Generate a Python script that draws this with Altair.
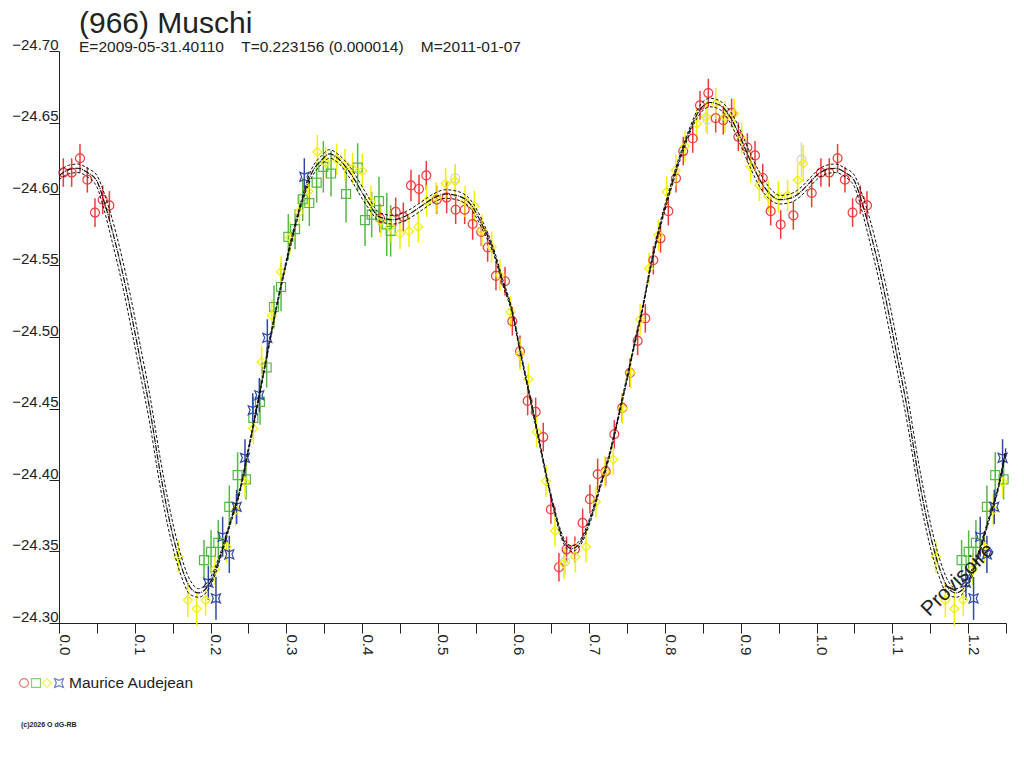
import altair as alt
import pandas as pd

FONT = "Liberation Sans"
INK = "#222222"

TITLE = "(966) Muschi"
SUBTITLE = "E=2009-05-31.40110\u00a0\u00a0\u00a0\u00a0T=0.223156 (0.000014)\u00a0\u00a0\u00a0\u00a0M=2011-01-07"
OBSERVER = "Maurice Audejean"
COPYRIGHT = "(c)2026 O dG-RB"
STAMP = "Provisoire"

# fitted light curve (phase 0..1)
curve_phase = [0.000, 0.0125, 0.025, 0.0375, 0.050, 0.060, 0.070, 0.083, 0.095, 0.108, 0.120, 0.133, 0.1465,
               0.160, 0.173, 0.184, 0.199, 0.2125, 0.226, 0.239, 0.250, 0.265, 0.281, 0.294, 0.307, 0.320,
               0.333, 0.347, 0.357, 0.368, 0.384, 0.406, 0.423, 0.441, 0.459, 0.477, 0.494, 0.510, 0.525,
               0.543, 0.560, 0.573, 0.586, 0.599, 0.608, 0.6217, 0.6327, 0.6437, 0.6547, 0.6657, 0.6767,
               0.6877, 0.7009, 0.714, 0.7273, 0.7383, 0.7493, 0.760, 0.771, 0.780, 0.793, 0.8066, 0.820,
               0.833, 0.846, 0.8594, 0.8726, 0.8858, 0.899, 0.912, 0.925, 0.9385, 0.9517, 0.965, 0.978, 0.991]
curve_mag = [-24.613, -24.617, -24.618, -24.615, -24.609, -24.594, -24.575, -24.547, -24.517, -24.482, -24.449,
             -24.407, -24.370, -24.342, -24.325, -24.321, -24.328, -24.346, -24.370, -24.393, -24.421, -24.461,
             -24.505, -24.538, -24.568, -24.594, -24.614, -24.624, -24.628, -24.625, -24.615, -24.596, -24.584,
             -24.582, -24.585, -24.591, -24.597, -24.600, -24.599, -24.593, -24.577, -24.561, -24.538, -24.516,
             -24.492, -24.458, -24.430, -24.402, -24.377, -24.358, -24.352, -24.356, -24.372, -24.395, -24.419,
             -24.444, -24.470, -24.496, -24.522, -24.547, -24.577, -24.603, -24.626, -24.645, -24.659, -24.664,
             -24.662, -24.654, -24.640, -24.624, -24.610, -24.600, -24.596, -24.597, -24.601, -24.608]
# half-width of the dashed uncertainty envelope at each curve point
curve_band = [0.003, 0.003, 0.003, 0.003, 0.004, 0.006, 0.008, 0.009, 0.010, 0.010, 0.010, 0.010, 0.009,
              0.007, 0.005, 0.003, 0.003, 0.002, 0.0015, 0.0015, 0.0015, 0.0015, 0.0015, 0.0015, 0.002, 0.002,
              0.003, 0.003, 0.003, 0.003, 0.004, 0.004, 0.003, 0.003, 0.003, 0.003, 0.003, 0.003, 0.003,
              0.003, 0.003, 0.002, 0.002, 0.0015, 0.0015, 0.0015, 0.0015, 0.0015, 0.0015, 0.002, 0.002,
              0.002, 0.002, 0.0015, 0.0015, 0.0015, 0.0015, 0.0015, 0.0015, 0.0015, 0.002, 0.002, 0.002,
              0.002, 0.003, 0.003, 0.003, 0.004, 0.005, 0.005, 0.005, 0.004, 0.003, 0.003, 0.003, 0.003]

red_phase = [0.0057, 0.0167, 0.0277, 0.0374, 0.0475, 0.0577, 0.0665,
             0.4237, 0.4444, 0.4545, 0.4646, 0.4752, 0.4848, 0.4985, 0.5117, 0.5236, 0.5355, 0.5460, 0.5574,
             0.5658, 0.5768, 0.5887, 0.5984, 0.6085, 0.6186, 0.6292, 0.6392, 0.6493, 0.6599, 0.6700, 0.6810,
             0.6912, 0.7008, 0.7110, 0.7216, 0.7330, 0.7435, 0.7537, 0.7638, 0.7739, 0.7845, 0.7940, 0.8043,
             0.8144, 0.8240, 0.8365, 0.8461, 0.8571, 0.8668, 0.8768, 0.8878, 0.8967, 0.9086, 0.9187, 0.9289,
             0.9394, 0.9526, 0.9693, 0.9935]
red_mag = [-24.615, -24.615, -24.625, -24.610, -24.587, -24.596, -24.592,
           -24.583, -24.5875, -24.584, -24.606, -24.6035, -24.613, -24.596, -24.5975, -24.589, -24.589, -24.579,
           -24.5735, -24.5626, -24.5427, -24.539, -24.511, -24.490, -24.4553, -24.4476, -24.430, -24.3794,
           -24.339, -24.3515, -24.3515, -24.370, -24.3866, -24.404, -24.406, -24.432, -24.4504, -24.475,
           -24.4973, -24.513, -24.5537, -24.569, -24.588, -24.611, -24.630, -24.6388, -24.662, -24.6706,
           -24.653, -24.6516, -24.6567, -24.640, -24.6325, -24.627, -24.6112, -24.588, -24.5787, -24.585,
           -24.6007]
red_err = [0.010, 0.010, 0.010, 0.009, 0.010, 0.010, 0.010,
           0.010, 0.010, 0.010, 0.011, 0.010, 0.010, 0.010, 0.011, 0.010, 0.010, 0.011, 0.010,
           0.010, 0.010, 0.010, 0.010, 0.011, 0.010, 0.010, 0.010, 0.010, 0.010, 0.009, 0.009,
           0.010, 0.010, 0.011, 0.010, 0.010, 0.010, 0.010, 0.010, 0.010, 0.010, 0.010, 0.010,
           0.010, 0.010, 0.010, 0.010, 0.010, 0.010, 0.010, 0.010, 0.010, 0.010, 0.010, 0.010,
           0.010, 0.010, 0.010, 0.010]

green_phase = [0.1914, 0.2007, 0.2103, 0.2248, 0.2358, 0.2468, 0.2565, 0.2653, 0.2741, 0.2838, 0.2931,
               0.3027, 0.3116, 0.3217, 0.3304, 0.3401, 0.3489, 0.3591, 0.3789, 0.3942, 0.4039, 0.4127,
               0.4224, 0.4326, 0.4378]
green_mag = [-24.344, -24.3498, -24.356, -24.3812, -24.4034, -24.4004, -24.4434, -24.4546, -24.4787, -24.521,
             -24.535, -24.570, -24.5754, -24.5963, -24.5937, -24.608, -24.619, -24.6143, -24.600, -24.6185,
             -24.5817, -24.5856, -24.595, -24.5787, -24.5742]
green_err = [0.014, 0.015, 0.016, 0.015, 0.016, 0.014, 0.015, 0.016, 0.014, 0.015, 0.017,
             0.016, 0.014, 0.015, 0.016, 0.014, 0.018, 0.016, 0.020, 0.017, 0.018, 0.016,
             0.017, 0.022, 0.018]

yellow_phase = [0.1575, 0.1700, 0.1818, 0.1936, 0.2059, 0.2213, 0.2332, 0.2455, 0.2565, 0.2675, 0.2810,
                0.2931, 0.3049, 0.3172, 0.3291, 0.3410, 0.3520, 0.3665, 0.3775, 0.3876, 0.4003, 0.4117,
                0.4250, 0.4369, 0.4501, 0.4620, 0.4742, 0.4853, 0.4977, 0.5104, 0.5227, 0.5360, 0.5482,
                0.5583, 0.5711, 0.5820, 0.5962, 0.6085, 0.6195, 0.6305, 0.6428, 0.6547, 0.6666, 0.6816,
                0.6956, 0.7088, 0.7207, 0.7316, 0.7440, 0.7546, 0.7670, 0.7788, 0.7911, 0.8022, 0.8141,
                0.8264, 0.8418, 0.8541, 0.8669, 0.8792, 0.8910, 0.9011, 0.9130, 0.9244, 0.9362, 0.9494,
                0.9618, 0.9750, 0.9824]
yellow_mag = [-24.3463, -24.316, -24.310, -24.316, -24.3375, -24.3533, -24.379, -24.3987, -24.436, -24.4826,
              -24.515, -24.5455, -24.5696, -24.5875, -24.602, -24.6294, -24.622, -24.6243, -24.6206, -24.6178,
              -24.616, -24.595, -24.581, -24.577, -24.5723, -24.574, -24.577, -24.595, -24.5973, -24.6073,
              -24.609, -24.595, -24.5914, -24.5747, -24.563, -24.5432, -24.5176, -24.488, -24.4705, -24.4337,
              -24.3992, -24.3645, -24.3417, -24.3463, -24.3533, -24.3847, -24.4057, -24.4144, -24.450,
              -24.4752, -24.5122, -24.5479, -24.5712, -24.6014, -24.6166, -24.6334, -24.6492, -24.6539,
              -24.6632, -24.6539, -24.6562, -24.6388, -24.619, -24.6061, -24.5984, -24.598, -24.599,
              -24.6096, -24.6213]
yellow_err = [0.011, 0.012, 0.012, 0.011, 0.011, 0.011, 0.011, 0.011, 0.011, 0.011, 0.011,
              0.011, 0.011, 0.011, 0.011, 0.012, 0.011, 0.011, 0.011, 0.011, 0.012, 0.011,
              0.011, 0.011, 0.011, 0.011, 0.011, 0.011, 0.011, 0.011, 0.011, 0.011, 0.011,
              0.011, 0.011, 0.011, 0.011, 0.011, 0.011, 0.011, 0.011, 0.011, 0.011, 0.011,
              0.011, 0.011, 0.011, 0.011, 0.011, 0.011, 0.011, 0.011, 0.011, 0.011, 0.011,
              0.011, 0.011, 0.011, 0.011, 0.011, 0.011, 0.011, 0.011, 0.011, 0.011, 0.011,
              0.011, 0.011, 0.013]

blue_phase = [0.1971, 0.2072, 0.2160, 0.2248, 0.2345, 0.2455, 0.2557, 0.2644, 0.2750, 0.3238]
blue_mag = [-24.3281, -24.3172, -24.3603, -24.348, -24.3812, -24.4155, -24.4488, -24.4593, -24.4994, -24.612]
blue_err = [0.012, 0.015, 0.014, 0.013, 0.012, 0.013, 0.012, 0.012, 0.013, 0.013]

gray_phase = [0.523, 0.668, 0.856, 0.980]
gray_mag = [-24.611, -24.343, -24.652, -24.624]
gray_err = [0.010, 0.010, 0.010, 0.012]

series_names = ["gray", "red", "green", "yellow", "blue"]
series_colors = ["#d4d4d4", "#f03a3a", "#56b846", "#f2f200", "#3048a8"]
STAR = "M-1,-1L0,-0.6L1,-1L0.6,0L1,1L0,0.6L-1,1L-0.6,0Z"
series_shapes = ["circle", "circle", "square", "diamond", STAR]
series_sizes = [80, 80, 50, 100, 40]

# ---- tables ----
frames = []
for name, ph, mg, er in [("gray", gray_phase, gray_mag, gray_err),
                         ("red", red_phase, red_mag, red_err),
                         ("green", green_phase, green_mag, green_err),
                         ("yellow", yellow_phase, yellow_mag, yellow_err),
                         ("blue", blue_phase, blue_mag, blue_err)]:
    assert len(ph) == len(mg) == len(er), name
    frames.append(pd.DataFrame({"phase": ph, "mag": mg, "err": er, "obs": name}))
pts = pd.concat(frames, ignore_index=True)
wrap = pts[pts["phase"] <= 0.25].copy()
wrap["phase"] = wrap["phase"] + 1.0
pts = pd.concat([pts, wrap], ignore_index=True)
pts["lo"] = pts["mag"] - pts["err"]
pts["hi"] = pts["mag"] + pts["err"]
pts["order"] = pts["obs"].map({n: i for i, n in enumerate(series_names)})

assert len(curve_phase) == len(curve_mag) == len(curve_band)
cv = pd.DataFrame({"phase": curve_phase, "mag": curve_mag, "band": curve_band})
cwrap = cv[cv["phase"] <= 0.25].copy()
cwrap["phase"] = cwrap["phase"] + 1.0
cv = pd.concat([cv, cwrap], ignore_index=True)
cv["upper"] = cv["mag"] - cv["band"]
cv["lower"] = cv["mag"] + cv["band"]

# ---- scales / axes ----
xs = alt.Scale(domain=[0, 1.25], nice=False, zero=False)
ys = alt.Scale(domain=[-24.70, -24.30], reverse=True, nice=False, zero=False)
x_axis = alt.Axis(values=[round(i * 0.05, 2) for i in range(26)],
                  labelExpr="abs(round(datum.value * 20)) % 2 == 0 ? format(datum.value, '.1f') : ''",
                  labelAngle=90, labelAlign="left", labelBaseline="alphabetic",
                  labelPadding=1, tickSize=10, grid=False, title="",
                  labelFlush=False, labelOverlap=False,
                  labelFont=FONT, labelFontSize=15, labelColor=INK,
                  domainColor=INK, tickColor=INK)
y_axis = alt.Axis(values=[round(-24.70 + i * 0.05, 2) for i in range(9)], format=".2f",
                  labelAlign="right", labelBaseline="alphabetic", labelPadding=-9, labelOffset=-2,
                  tickSize=10, grid=False, title="", labelFlush=False, labelOverlap=False,
                  labelFont=FONT, labelFontSize=15, labelColor=INK,
                  domainColor=INK, tickColor=INK)

X = alt.X("phase:Q", scale=xs, axis=x_axis)
color = alt.Color("obs:N", scale=alt.Scale(domain=series_names, range=series_colors), legend=None)
shape = alt.Shape("obs:N", scale=alt.Scale(domain=series_names, range=series_shapes), legend=None)
size = alt.Size("obs:N", scale=alt.Scale(domain=series_names, range=series_sizes), legend=None)

bars = alt.Chart(pts).mark_rule(strokeWidth=1.5).encode(
    x=X, y=alt.Y("lo:Q", scale=ys, axis=y_axis), y2="hi:Q", color=color,
    order=alt.Order("order:Q"))
marks = alt.Chart(pts).mark_point(filled=False, strokeWidth=1.2, opacity=1).encode(
    x=X, y=alt.Y("mag:Q", scale=ys, axis=y_axis), color=color, shape=shape, size=size,
    order=alt.Order("order:Q"))

center = alt.Chart(cv).mark_line(color="#111111", strokeWidth=1.2, strokeDash=[6, 1, 1, 1],
                                 interpolate="monotone").encode(
    x=X, y=alt.Y("mag:Q", scale=ys, axis=y_axis))
upper = alt.Chart(cv).mark_line(color="#111111", strokeWidth=1, strokeDash=[3, 2],
                                interpolate="monotone").encode(
    x=X, y=alt.Y("upper:Q", scale=ys, axis=y_axis))
lower = alt.Chart(cv).mark_line(color="#111111", strokeWidth=1, strokeDash=[3, 2],
                                interpolate="monotone").encode(
    x=X, y=alt.Y("lower:Q", scale=ys, axis=y_axis))

one = pd.DataFrame({"k": [0]})
title = alt.Chart(one).mark_text(text=TITLE, font=FONT, fontSize=30, color=INK, align="left",
                                 baseline="top").encode(x=alt.value(20), y=alt.value(-42))
subtitle = alt.Chart(one).mark_text(text=SUBTITLE, font=FONT, fontSize=15.5, color=INK, align="left",
                                    baseline="alphabetic").encode(x=alt.value(20), y=alt.value(1))
stamp = alt.Chart(one).mark_text(text=STAMP, font=FONT, fontSize=21, color=INK, align="center",
                                 baseline="middle", angle=315).encode(x=alt.value(899), y=alt.value(529))

leg_df = pd.DataFrame({"obs": ["red", "green", "yellow", "blue"], "lx": [-35, -23, -12, 0]})
leg_sym = alt.Chart(leg_df).mark_point(filled=False, strokeWidth=1.2).encode(
    x=alt.X("lx:Q", scale=None), y=alt.value(632), color=color, shape=shape,
    size=alt.Size("obs:N", scale=alt.Scale(domain=series_names, range=[110, 110, 55, 110, 45]), legend=None))
leg_txt = alt.Chart(one).mark_text(text=OBSERVER, font=FONT, fontSize=15.5, color=INK, align="left",
                                   baseline="middle").encode(x=alt.value(10), y=alt.value(632))
copy_txt = alt.Chart(one).mark_text(text=COPYRIGHT, font=FONT, fontSize=7, fontWeight="bold", color=INK,
                                    align="left", baseline="middle").encode(x=alt.value(-38), y=alt.value(674))

chart = alt.layer(bars, marks, center, upper, lower, title, subtitle, stamp,
                  leg_sym, leg_txt, copy_txt).properties(
    width=947, height=572,
    autosize=alt.AutoSizeParams(type="none"),
    padding={"left": 51, "top": 43, "right": 10, "bottom": 110},
    background="white",
).configure_view(strokeWidth=0)

chart.save("out.html", embed_options={"renderer": "svg", "actions": False})
